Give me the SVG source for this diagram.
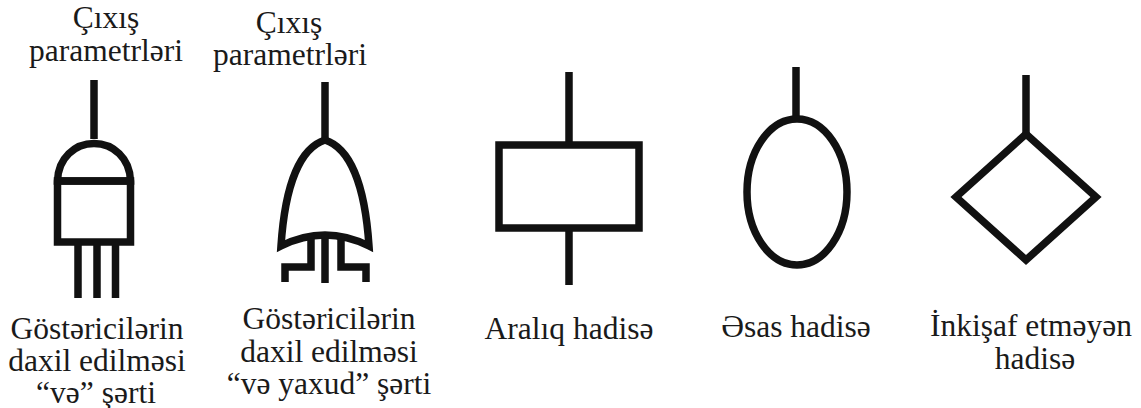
<svg xmlns="http://www.w3.org/2000/svg" width="1141" height="408" viewBox="0 0 1141 408">
<style>
text{font-family:"Liberation Serif","Times New Roman",serif;font-size:31.500px;fill:#1a1a1a;text-anchor:middle}
.s{fill:none;stroke:#111;stroke-width:7.500}
</style>
<rect width="1141" height="408" fill="#fff"/>
<g id="connectors">
<path class="s" d="M94 80V139"/>
<path class="s" d="M325 82V140"/>
<path class="s" d="M569 72V145M569 228V285"/>
<path class="s" d="M796 67V119"/>
<path class="s" d="M1026 75V134"/>
</g>
<g id="and-gate">
<path class="s" d="M57.500 181C58 158 75 143.500 94 143.500C113 143.500 130 158 130.500 181Z"/>
<rect class="s" x="57.500" y="181" width="73" height="61"/>
<path class="s" d="M78 243V298M97 243V298M115.500 243V298"/>
<text x="106" y="28">Çıxış</text><text x="106" y="61">parametrləri</text>
<text x="97" y="339">Göstəricilərin</text><text x="97" y="371">daxil edilməsi</text><text x="96" y="403">“və” şərti</text>
</g>
<g id="or-gate">
<path class="s" d="M325 140C300 148 285 185 281 246Q325 224 369 246C365 185 350 148 325 140Z"/>
<path class="s" d="M311 236V267H285V282M325 234V283M341 236V267H366V282"/>
<text x="289" y="33">Çıxış</text><text x="290" y="65">parametrləri</text>
<text x="329" y="329">Göstəricilərin</text><text x="329" y="362">daxil edilməsi</text><text x="329" y="394">“və yaxud” şərti</text>
</g>
<g id="intermediate-event">
<rect class="s" x="499" y="145" width="140" height="83"/>
<text x="569" y="339">Aralıq hadisə</text>
</g>
<g id="basic-event">
<ellipse class="s" cx="797" cy="192" rx="50" ry="73"/>
<text x="796" y="337">Əsas hadisə</text>
</g>
<g id="undeveloped-event">
<path class="s" d="M1026 134L1096 197L1026 260L956 197Z"/>
<text x="1031" y="336">İnkişaf etməyən</text><text x="1035" y="369">hadisə</text>
</g>
</svg>
